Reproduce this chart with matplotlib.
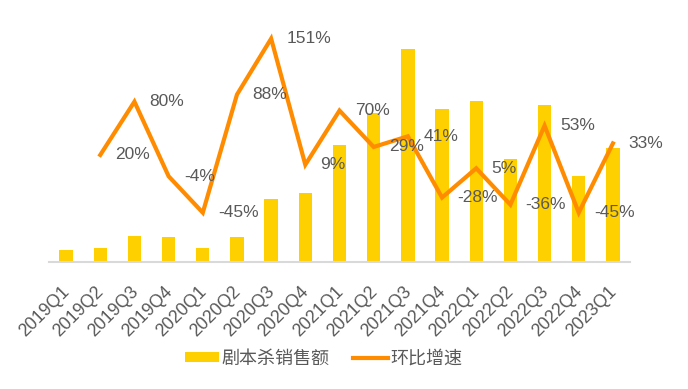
import numpy as np
import matplotlib.pyplot as plt
from matplotlib.transforms import ScaledTranslation

# quarters, sales (arbitrary units) and QoQ growth (%)
quarters = ['2019Q1', '2019Q2', '2019Q3', '2019Q4',
            '2020Q1', '2020Q2', '2020Q3', '2020Q4',
            '2021Q1', '2021Q2', '2021Q3', '2021Q4',
            '2022Q1', '2022Q2', '2022Q3', '2022Q4', '2023Q1']
sales = [11.5, 13.8, 25.2, 24.2, 13.2, 24.8, 62.5, 68.5, 116.2,
         148.5, 212.2, 152.5, 160.8, 102.5, 156.5, 85.8, 113.8]
growth = [np.nan, 20, 80, -4, -45, 88, 151, 9, 70, 29, 41, -28, 5, -36, 53, -45, 33]

bar_color = '#FFD000'
line_color = '#FF8C00'
text_color = '#595959'
fonts = ['Liberation Sans', 'Noto Sans CJK SC', 'DejaVu Sans']
plt.rcParams['font.family'] = fonts

fig = plt.figure(figsize=(6.88, 3.89), dpi=100)
ax = fig.add_axes([49 / 688, 1 - 261.5 / 389, 581 / 688, 257.5 / 389])
x = np.arange(len(quarters))

bars = ax.bar(x, sales, width=0.39, color=bar_color, label='剧本杀销售额', zorder=2)
ax.set_xlim(-0.5, len(quarters) - 0.5)
ax.set_ylim(0, 257.5)
ax.set_yticks([])
for s in ['top', 'right', 'left']:
    ax.spines[s].set_visible(False)
ax.spines['bottom'].set_color('#d9d9d9')
ax.spines['bottom'].set_linewidth(1.5)
ax.set_xticks(x)
ax.set_xticklabels(quarters, rotation=45, ha='right', va='top',
                   fontsize=12.8, color=text_color)
ax.tick_params(axis='x', length=0, pad=10)
shift = ScaledTranslation(0.07, -0.08, fig.dpi_scale_trans)
for lab in ax.get_xticklabels():
    lab.set_transform(lab.get_transform() + shift)

ax2 = ax.twinx()
ax2.set_ylim(-100, 190)
ax2.set_yticks([])
for s in ax2.spines.values():
    s.set_visible(False)
line, = ax2.plot(x, growth, color=line_color, lw=3, label='环比增速',
                 solid_joinstyle='miter', zorder=3)
for xi, g in zip(x, growth):
    if np.isnan(g):
        continue
    ax2.annotate(f'{g:.0f}%', (xi, g), xytext=(11, 0), textcoords='offset points',
                 ha='left', va='center', fontsize=12.5, color=text_color, zorder=4)

fig.legend(handles=[bars, line], labels=['剧本杀销售额', '环比增速'],
           loc='center', bbox_to_anchor=(323.5 / 688, 1 - 359 / 389), ncol=2,
           frameon=False, fontsize=13, labelcolor=text_color,
           handlelength=1.9, handleheight=0.5, handletextpad=0.15, columnspacing=1.3)

fig.savefig('out.png', dpi=100)
